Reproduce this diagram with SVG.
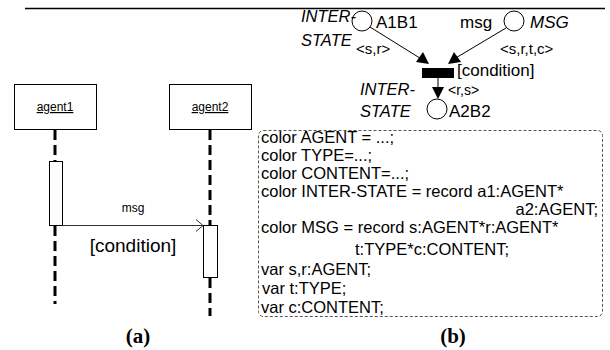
<svg xmlns="http://www.w3.org/2000/svg" width="610" height="350" viewBox="0 0 610 350">
  <style>
    .t { font-family: "Liberation Sans", Arial, sans-serif; fill: #000; }
    .it { font-style: italic; }
    .cap { font-family: "Liberation Serif", "Times New Roman", serif; font-weight: bold; font-size: 21px; fill: #000; }
    .box { fill: #fff; stroke: #000; stroke-width: 1; }
    .life { stroke: #000; stroke-width: 3; stroke-dasharray: 10 5; fill: none; }
    .place { fill: #fff; stroke: #000; stroke-width: 1; }
    .arc { stroke: #000; stroke-width: 1; fill: none; }
    .decl { font-family: "Liberation Sans", Arial, sans-serif; font-size: 16.5px; fill: #000; }
  </style>
  <rect x="0" y="0" width="610" height="350" fill="#fff"/>
  <line x1="25" y1="8.5" x2="605" y2="8.5" stroke="#000" stroke-width="1.5"/>

  <!-- (a) sequence diagram -->
  <g id="agent1">
    <rect class="box" x="14.5" y="84.5" width="82" height="45"/>
    <text class="t" x="55" y="111" font-size="12" text-anchor="middle" text-decoration="underline">agent1</text>
  </g>
  <g id="agent2">
    <rect class="box" x="169.5" y="84.5" width="82" height="45"/>
    <text class="t" x="210" y="111" font-size="12" text-anchor="middle" text-decoration="underline">agent2</text>
  </g>
  <g id="lifelines">
    <line class="life" x1="55" y1="130" x2="55" y2="161"/>
    <line class="life" x1="55" y1="226" x2="55" y2="304"/>
    <line class="life" x1="210" y1="130" x2="210" y2="225"/>
    <line class="life" x1="210" y1="278" x2="210" y2="316"/>
  </g>
  <g id="activation1">
    <rect class="box" x="49.5" y="161.5" width="13" height="64"/>
  </g>
  <g id="activation2">
    <rect class="box" x="203.5" y="225.5" width="14" height="52"/>
  </g>
  <g id="connectors-a">
    <line x1="62" y1="225.5" x2="203" y2="225.5" stroke="#333" stroke-width="1"/>
    <polyline points="196,219.5 203,225.5 196,231.5" fill="none" stroke="#333" stroke-width="1"/>
    <text class="t" x="133" y="212" font-size="12" text-anchor="middle">msg</text>
    <text class="t" x="133" y="252" font-size="19" text-anchor="middle">[condition]</text>
  </g>
  <text class="cap" x="138" y="343" text-anchor="middle">(a)</text>

  <!-- (b) coloured Petri net -->
  <g id="place-A1B1">
    <circle class="place" cx="362" cy="21" r="10"/>
    <text class="t it" x="301" y="22" font-size="16.5">INTER-</text>
    <text class="t it" x="301" y="46" font-size="16.5">STATE</text>
    <text class="t" x="376" y="28" font-size="17">A1B1</text>
  </g>
  <g id="place-MSG">
    <circle class="place" cx="514" cy="21" r="10"/>
    <text class="t" x="460" y="28" font-size="17">msg</text>
    <text class="t it" x="530" y="28" font-size="17">MSG</text>
  </g>
  <g id="transition">
    <rect x="422" y="68" width="32" height="10" fill="#000"/>
    <text class="t" x="457" y="76" font-size="17">[condition]</text>
  </g>
  <g id="place-A2B2">
    <circle class="place" cx="437" cy="109" r="10"/>
    <text class="t it" x="360" y="95" font-size="16.5">INTER-</text>
    <text class="t it" x="360" y="117" font-size="16.5">STATE</text>
    <text class="t" x="449" y="117" font-size="17">A2B2</text>
  </g>
  <g id="connectors-b">
    <line class="arc" x1="370" y1="27" x2="423" y2="60"/>
    <polygon points="429,64 416,62 423,52" fill="#000"/>
    <text class="t" x="356" y="54" font-size="15">&lt;s,r&gt;</text>
    <line class="arc" x1="506" y1="28" x2="454" y2="59"/>
    <polygon points="448,64 454,52 461,62" fill="#000"/>
    <text class="t" x="500" y="54" font-size="15">&lt;s,r,t,c&gt;</text>
    <line class="arc" x1="438" y1="78" x2="438" y2="88"/>
    <polygon points="432,87 444,87 438,99" fill="#000"/>
    <text class="t" x="448" y="95" font-size="14">&lt;r,s&gt;</text>
  </g>
  <g id="declarations">
    <rect x="258.5" y="130.5" width="344" height="186" rx="5" fill="none" stroke="#555" stroke-width="1" stroke-dasharray="3 2"/>
    <text class="decl" x="261" y="143">color AGENT = ...;</text>
    <text class="decl" x="261" y="161">color TYPE=...;</text>
    <text class="decl" x="261" y="179">color CONTENT=...;</text>
    <text class="decl" x="261" y="197">color INTER-STATE = record a1:AGENT*</text>
    <text class="decl" x="598" y="215" text-anchor="end">a2:AGENT;</text>
    <text class="decl" x="261" y="233">color MSG = record s:AGENT*r:AGENT*</text>
    <text class="decl" x="355" y="255">t:TYPE*c:CONTENT;</text>
    <text class="decl" x="261" y="275">var s,r:AGENT;</text>
    <text class="decl" x="262" y="294">var t:TYPE;</text>
    <text class="decl" x="261" y="313">var c:CONTENT;</text>
  </g>
  <text class="cap" x="453" y="343" text-anchor="middle">(b)</text>
</svg>
